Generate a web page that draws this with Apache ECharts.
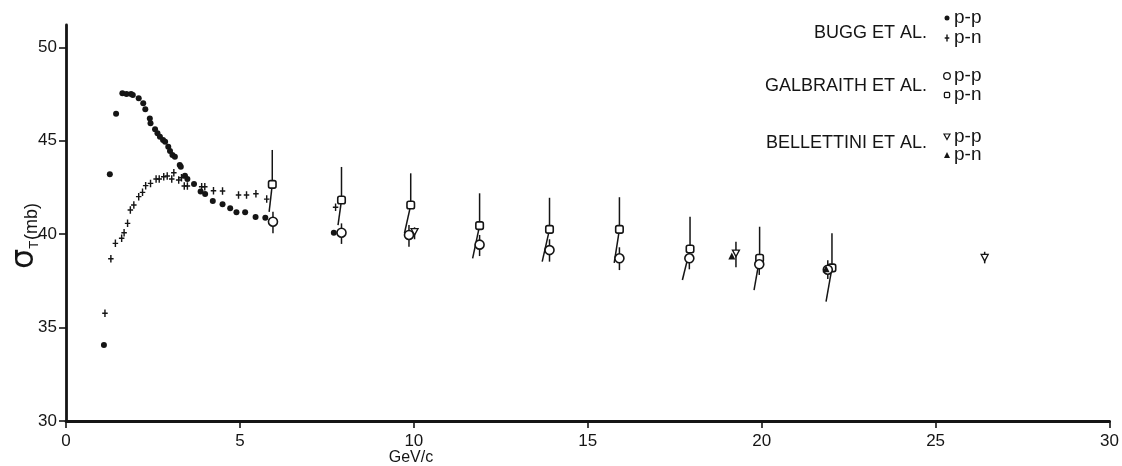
<!DOCTYPE html>
<html><head><meta charset="utf-8">
<script src="https://cdn.jsdelivr.net/npm/echarts@6/dist/echarts.min.js"></script>
<style>html,body{margin:0;padding:0;background:#fff}#c{width:1122px;height:466px}</style>
</head><body><div id="c"></div>
<script>
// ---- data ----
const xTicks = [0, 5, 10, 15, 20, 25, 30];
const yTicks = [30, 35, 40, 45, 50];

// Bugg et al. p-p (filled dots)
const buggPpX = [1.09, 1.26, 1.44, 1.62, 1.74, 1.87, 1.92, 2.09, 2.22, 2.28, 2.41, 2.43, 2.56, 2.63, 2.70, 2.79, 2.85, 2.94, 2.99, 3.06, 3.13, 3.27, 3.30, 3.42, 3.49, 3.68, 3.87, 4.00, 4.22, 4.50, 4.72, 4.90, 5.15, 5.45, 5.73, 7.70];
const buggPpY = [34.07, 43.21, 46.45, 47.54, 47.51, 47.51, 47.45, 47.28, 47.01, 46.69, 46.20, 45.94, 45.62, 45.40, 45.22, 45.04, 44.95, 44.68, 44.45, 44.24, 44.15, 43.70, 43.61, 43.13, 42.96, 42.69, 42.28, 42.15, 41.78, 41.60, 41.39, 41.17, 41.17, 40.92, 40.88, 40.08];

// Bugg et al. p-n (small crosses)
const buggPnX = [1.12, 1.29, 1.42, 1.60, 1.67, 1.77, 1.85, 1.95, 2.09, 2.20, 2.29, 2.43, 2.59, 2.68, 2.81, 2.91, 3.04, 3.10, 3.24, 3.32, 3.40, 3.49, 3.90, 3.99, 4.24, 4.50, 4.96, 5.19, 5.46, 5.77, 7.75];
const buggPnY = [35.77, 38.69, 39.51, 39.78, 40.08, 40.58, 41.30, 41.56, 42.01, 42.24, 42.60, 42.72, 42.96, 42.96, 43.08, 43.12, 42.96, 43.29, 42.90, 43.02, 42.58, 42.58, 42.54, 42.54, 42.33, 42.31, 42.10, 42.10, 42.17, 41.88, 41.44];

// Galbraith et al. p-p (open circles) with error bars
const galPpX  = [5.95, 7.92, 9.86, 11.89, 13.90, 15.91, 17.92, 19.93, 21.90];
const galPpY  = [40.67, 40.08, 39.96, 39.44, 39.15, 38.71, 38.71, 38.39, 38.10];
const galPpHi = [41.20, 40.58, 40.49, 39.96, 39.73, 39.30, 38.98, 38.71, 38.60];
const galPpLo = [40.05, 39.48, 39.33, 38.83, 38.53, 38.08, 38.12, 37.82, 37.60];

// Galbraith et al. p-n (open squares) with error bars (lower bar drawn off-axis)
const galPnX   = [5.93, 7.92, 9.91, 11.89, 13.90, 15.91, 17.94, 19.94, 22.02];
const galPnY   = [42.67, 41.83, 41.56, 40.46, 40.26, 40.26, 39.21, 38.71, 38.20];
const galPnHi  = [44.51, 43.60, 43.26, 42.19, 41.95, 41.98, 40.94, 40.40, 40.05];
const galPnLo  = [41.20, 40.49, 40.05, 38.71, 38.53, 38.47, 37.55, 37.01, 36.39];
const galPnXLo = [5.84, 7.82, 9.73, 11.69, 13.69, 15.76, 17.72, 19.78, 21.85];

// Bellettini et al. p-p (open down triangles) and p-n (filled triangles)
const belPpX  = [10.02, 19.26, 26.41];
const belPpY  = [40.13, 38.98, 38.74];
const belPpHi = [40.37, 39.60, 39.06];
const belPpLo = [39.73, 38.23, 38.44];
const belPnX  = [19.14, 21.85];
const belPnY  = [38.83, 38.15];

// legend texts
const legendGroups = ['BUGG ET AL.', 'GALBRAITH ET AL.', 'BELLETTINI ET AL.'];
const legendSub = ['p-p', 'p-n'];

// ---- chart ----
const INK = '#151515';
const FONT = 'Liberation Sans, Arial, sans-serif';
const pairs = (xs, ys) => xs.map((x, i) => [x, ys[i]]);

function errSeries(xs, ys, hi, lo, xlo) {
  const data = xs.map((x, i) => [x, ys[i], hi[i], lo[i], xlo ? xlo[i] : x]);
  return {
    type: 'custom', data, silent: true, z: 2,
    encode: { x: [0, 4], y: [1, 2, 3] },
    renderItem: (params, api) => {
      const p = api.coord([api.value(0), api.value(1)]);
      const h = api.coord([api.value(0), api.value(2)]);
      const l = api.coord([api.value(4), api.value(3)]);
      return { type: 'group', children: [
        { type: 'line', shape: { x1: h[0], y1: h[1], x2: p[0], y2: p[1] }, style: { stroke: INK, lineWidth: 1.5 } },
        { type: 'line', shape: { x1: p[0], y1: p[1], x2: l[0], y2: l[1] }, style: { stroke: INK, lineWidth: 1.5 } }
      ]};
    }
  };
}

const plusPath = 'path://M2,0h1.4v3h2v1.4h-2v3h-1.4v-3h-2v-1.4h2z';
const downTri = 'path://M0,0L10,0L5,9Z';

const chart = echarts.init(document.getElementById('c'), null, { renderer: 'canvas' });
const labelStyle = { color: INK, fontFamily: FONT, fontSize: 17 };

const g = [];
const LX = 927, SX = 947, TX = 954;
const rows = [[18, 38, 33], [76, 95, 86], [137, 155, 143]];
legendGroups.forEach((name, i) => {
  g.push({ type: 'text', x: LX, y: rows[i][2], style: { text: name, fill: INK, font: '18px ' + FONT, align: 'right', verticalAlign: 'middle' } });
  g.push({ type: 'text', x: TX, y: rows[i][0], style: { text: legendSub[0], fill: INK, font: '19px ' + FONT, align: 'left', verticalAlign: 'middle' } });
  g.push({ type: 'text', x: TX, y: rows[i][1], style: { text: legendSub[1], fill: INK, font: '19px ' + FONT, align: 'left', verticalAlign: 'middle' } });
});
// legend symbols
g.push({ type: 'circle', shape: { cx: SX, cy: 18, r: 2.5 }, style: { fill: INK } });
g.push({ type: 'polygon', shape: { points: [[SX - 0.7, 34.5], [SX + 0.7, 34.5], [SX + 0.7, 37.3], [SX + 2.3, 37.3], [SX + 2.3, 38.7], [SX + 0.7, 38.7], [SX + 0.7, 41.5], [SX - 0.7, 41.5], [SX - 0.7, 38.7], [SX - 2.3, 38.7], [SX - 2.3, 37.3], [SX - 0.7, 37.3]] }, style: { fill: INK } });
g.push({ type: 'circle', shape: { cx: SX, cy: 76, r: 3.3 }, style: { fill: '#fff', stroke: INK, lineWidth: 1.3 } });
g.push({ type: 'rect', shape: { x: SX - 2.6, y: 92.4, width: 5.2, height: 5.2, r: 1 }, style: { fill: '#fff', stroke: INK, lineWidth: 1.3 } });
g.push({ type: 'polygon', shape: { points: [[SX - 3, 134], [SX + 3, 134], [SX, 139.5]] }, style: { fill: '#fff', stroke: INK, lineWidth: 1.2 } });
g.push({ type: 'polygon', shape: { points: [[SX - 3, 158], [SX + 3, 158], [SX, 152]] }, style: { fill: INK } });
// y axis name
g.push({ type: 'text', x: 21, y: 236, rotation: Math.PI / 2, style: {
  text: '{s|σ}{t|T}{m|(mb)}', fill: INK, align: 'center', verticalAlign: 'middle',
  rich: {
    s: { fontSize: 32, fontFamily: 'DejaVu Sans', fill: INK, verticalAlign: 'bottom', lineHeight: 30 },
    t: { fontSize: 13, fontFamily: FONT, fill: INK, verticalAlign: 'bottom', lineHeight: 30, padding: [0, 1, 0, 0] },
    m: { fontSize: 18, fontFamily: FONT, fill: INK, verticalAlign: 'bottom', lineHeight: 40 }
  }
} });
g.push({ type: 'text', x: 411, y: 458, style: { text: 'GeV/c', fill: INK, font: '16px ' + FONT, align: 'center', verticalAlign: 'middle' } });

chart.setOption({
  animation: false,
  backgroundColor: '#fff',
  grid: { left: 66, right: 11, top: 25, bottom: 45, containLabel: false },
  xAxis: {
    type: 'value', min: 0, max: 30, interval: 5,
    axisLine: { show: true, onZero: false, lineStyle: { color: INK, width: 2.8 } },
    axisTick: { show: true, length: 7, lineStyle: { color: INK, width: 1.6 } },
    axisLabel: Object.assign({ margin: 12, formatter: v => xTicks.includes(v) ? String(v) : '' }, labelStyle),
    splitLine: { show: false }
  },
  yAxis: {
    type: 'value', min: 30, max: 51.2,
    axisLine: { show: true, onZero: false, lineStyle: { color: INK, width: 2.8 } },
    axisTick: { show: true, length: 7, customValues: yTicks, lineStyle: { color: INK, width: 1.6 } },
    axisLabel: Object.assign({ margin: 9, customValues: yTicks }, labelStyle),
    splitLine: { show: false }
  },
  graphic: g,
  series: [
    errSeries(galPnX, galPnY, galPnHi, galPnLo, galPnXLo),
    errSeries(galPpX, galPpY, galPpHi, galPpLo),
    errSeries(belPpX, belPpY, belPpHi, belPpLo),
    { type: 'scatter', data: pairs(buggPpX, buggPpY), symbol: 'circle', symbolSize: 6, itemStyle: { color: INK, opacity: 1 }, z: 3 },
    { type: 'scatter', data: pairs(buggPnX, buggPnY), symbol: plusPath, symbolSize: [5.5, 7.5], itemStyle: { color: INK, opacity: 1 }, z: 3 },
    { type: 'scatter', data: pairs(galPnX, galPnY), symbol: 'roundRect', symbolSize: 7.5, itemStyle: { color: '#fff', borderColor: INK, borderWidth: 1.6, opacity: 1 }, z: 4 },
    { type: 'scatter', data: pairs(galPpX, galPpY), symbol: 'circle', symbolSize: 9, itemStyle: { color: '#fff', borderColor: INK, borderWidth: 1.6, opacity: 1 }, z: 4 },
    { type: 'scatter', data: pairs(belPnX, belPnY), symbol: 'triangle', symbolSize: 7, itemStyle: { color: INK, opacity: 1 }, z: 5 },
    { type: 'scatter', data: pairs(belPpX, belPpY), symbol: downTri, symbolSize: [7, 6.5], itemStyle: { color: '#fff', borderColor: INK, borderWidth: 1.3, opacity: 1 }, z: 5 }
  ]
});
</script>
</body></html>
